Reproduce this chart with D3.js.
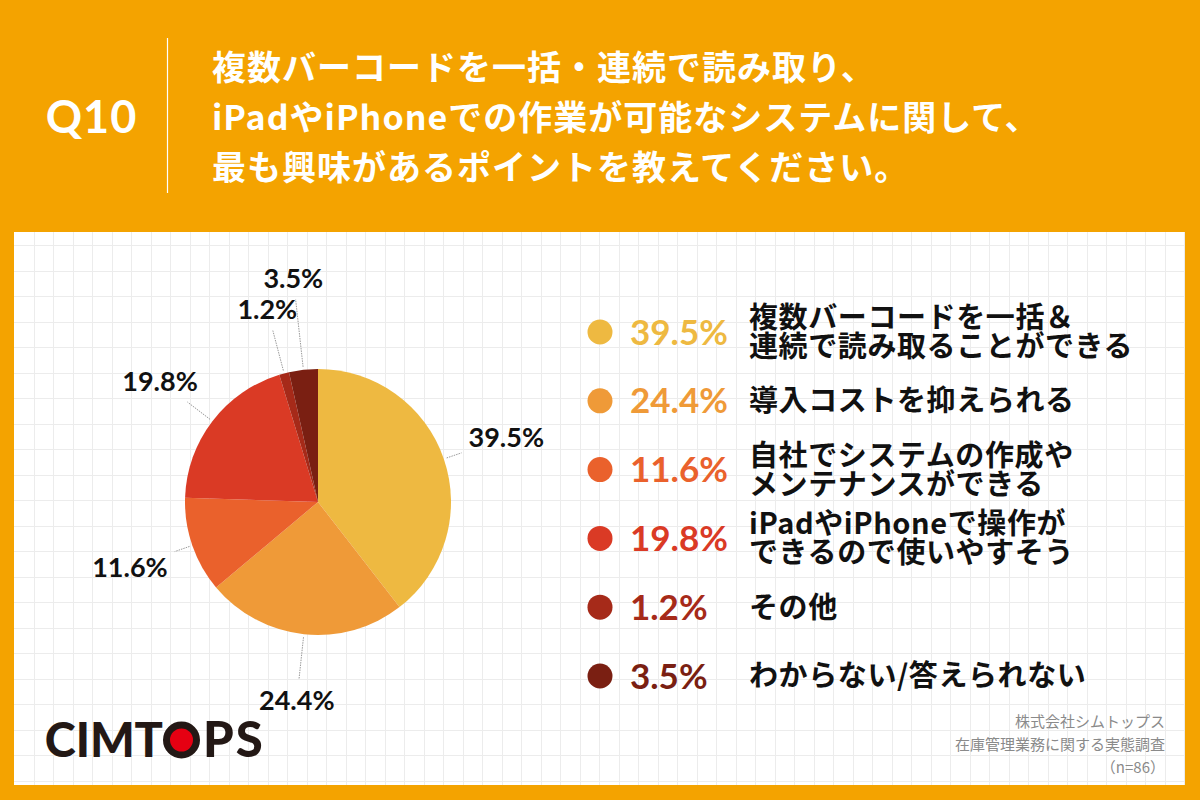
<!DOCTYPE html>
<html><head><meta charset="utf-8">
<script src="https://cdn.jsdelivr.net/npm/d3@7"></script>
<style>
body{margin:0;background:#fff;}
svg{display:block}
</style>
</head><body>
<svg id="chart" width="1200" height="800"></svg>
<script>
// ---- data ----
const categories = [
  ["複数バーコードを一括＆", "連続で読み取ることができる"],
  ["導入コストを抑えられる"],
  ["自社でシステムの作成や", "メンテナンスができる"],
  ["iPadやiPhoneで操作が", "できるので使いやすそう"],
  ["その他"],
  ["わからない/答えられない"]
];
const values = [39.5, 24.4, 11.6, 19.8, 1.2, 3.5];
const valueLabels = ["39.5%", "24.4%", "11.6%", "19.8%", "1.2%", "3.5%"];
const questionNo = "Q10";
const titleLines = [
  "複数バーコードを一括・連続で読み取り、",
  "iPadやiPhoneでの作業が可能なシステムに関して、",
  "最も興味があるポイントを教えてください。"
];
const sourceLines = ["株式会社シムトップス", "在庫管理業務に関する実態調査", "（n=86）"];
const sliceColors = ["#EEB941", "#EF9A38", "#EA612C", "#DA3A25", "#A62A19", "#7A1F12"];

// ---- layout ----
const W = 1200, H = 800;
const svg = d3.select("#chart");
const JP = "'Noto Sans CJK JP','Noto Sans',sans-serif";
const NUM = "Lato,'Noto Sans',sans-serif";

svg.append("rect").attr("width", W).attr("height", H).attr("fill", "#F4A300");

// white panel with grid
const panel = {x: 14, y: 232, w: 1171, h: 553};
svg.append("rect").attr("x", panel.x).attr("y", panel.y)
  .attr("width", panel.w).attr("height", panel.h).attr("fill", "#ffffff");
const gridG = svg.append("g").attr("stroke", "#ececec").attr("stroke-width", 1);
const gx = d3.range(panel.x + 19.5, panel.x + panel.w, 19.5);
const gy = d3.range(panel.y + 13, panel.y + panel.h, 25.5);
gridG.selectAll("line.v").data(gx).join("line").attr("class", "v")
  .attr("x1", d => Math.round(d) + 0.5).attr("x2", d => Math.round(d) + 0.5)
  .attr("y1", panel.y).attr("y2", panel.y + panel.h);
gridG.selectAll("line.h").data(gy).join("line").attr("class", "h")
  .attr("y1", d => Math.round(d) + 0.5).attr("y2", d => Math.round(d) + 0.5)
  .attr("x1", panel.x).attr("x2", panel.x + panel.w);

// header
svg.append("text").attr("x", 91.5).attr("y", 117).attr("dy", "0.36em")
  .attr("text-anchor", "middle").attr("fill", "#fff")
  .attr("font-family", NUM).attr("font-weight", 700).attr("font-size", 45)
  .attr("letter-spacing", 1)
  .text(questionNo);
svg.append("line").attr("x1", 167.5).attr("x2", 167.5).attr("y1", 38).attr("y2", 193)
  .attr("stroke", "#fff").attr("stroke-width", 1.2);
const titleY = d3.scalePoint().domain(d3.range(titleLines.length)).range([68, 168]);
svg.append("g").selectAll("text").data(titleLines).join("text")
  .attr("x", 212).attr("y", (d, i) => titleY(i)).attr("dy", "0.36em")
  .attr("fill", "#fff").attr("font-family", JP).attr("font-weight", 700)
  .attr("font-size", 34).attr("letter-spacing", 1).text(d => d);

// pie
const cx = 318, cy = 502, R = 133;
const pie = d3.pie().sort(null).value(d => d);
const arcs = pie(values);
const arc = d3.arc().innerRadius(0).outerRadius(R);
const pieG = svg.append("g").attr("transform", `translate(${cx},${cy})`);
pieG.selectAll("path").data(arcs).join("path")
  .attr("d", arc).attr("fill", (d, i) => sliceColors[i]);

// pie labels with simple collision avoidance
const labelG = pieG.append("g");
const lbls = labelG.selectAll("text").data(arcs).join("text")
  .attr("text-anchor", "middle").attr("dy", "0.36em")
  .attr("font-family", NUM).attr("font-weight", 700).attr("font-size", 27)
  .attr("fill", "#111").text((d, i) => valueLabels[i]);
const placed = [];
const capH = 20;
lbls.each(function(d) {
  const w = this.getComputedTextLength();
  const a = (d.startAngle + d.endAngle) / 2;
  const s = Math.sin(a), c = -Math.cos(a);
  let r = R + 66;
  const box = rr => ({x: rr * s, y: rr * c, w, h: capH});
  const hits = b => placed.some(p => Math.abs(p.x - b.x) < (p.w + b.w) / 2 + 2 && Math.abs(p.y - b.y) < (p.h + b.h) / 2 + 10);
  while (hits(box(r))) r += 2;
  const b = box(r);
  placed.push(b);
  d.lx = b.x; d.ly = b.y; d.lr = r; d.w = w; d.s = s; d.c = c;
  d3.select(this).attr("x", b.x).attr("y", b.y);
});
labelG.selectAll("line").data(arcs).join("line")
  .attr("stroke", "#9a9a9a").attr("stroke-width", 1).attr("stroke-dasharray", "1.5,1")
  .each(function(d) {
    const pad = 7;
    const tx = Math.abs(d.s) > 1e-6 ? (d.w / 2 + pad) / Math.abs(d.s) : Infinity;
    const ty = Math.abs(d.c) > 1e-6 ? (capH / 2 + pad + 4) / Math.abs(d.c) : Infinity;
    const end = d.lr - Math.min(tx, ty);
    const start = R + 3;
    d3.select(this)
      .attr("x1", start * d.s).attr("y1", start * d.c)
      .attr("x2", end * d.s).attr("y2", end * d.c);
  });

// legend
const ly = d3.scalePoint().domain(d3.range(values.length)).range([332, 676]);
const legG = svg.append("g");
const items = legG.selectAll("g").data(values).join("g")
  .attr("transform", (d, i) => `translate(0,${ly(i)})`);
items.append("circle").attr("cx", 600).attr("cy", 0).attr("r", 12.5)
  .attr("fill", (d, i) => sliceColors[i]);
items.append("text").attr("x", 630).attr("y", 0).attr("dy", "0.36em")
  .attr("font-family", NUM).attr("font-weight", 700).attr("font-size", 35)
  .attr("fill", (d, i) => sliceColors[i]).text((d, i) => valueLabels[i]);
items.each(function(d, i) {
  const lines = categories[i];
  const n = lines.length;
  const t = d3.select(this).append("text")
    .attr("font-family", JP).attr("font-weight", 700)
    .attr("font-size", 29).attr("letter-spacing", 0.6).attr("fill", "#111");
  t.selectAll("tspan").data(lines).join("tspan")
    .attr("x", 749).attr("y", (s, j) => (j - (n - 1) / 2) * 29)
    .attr("dy", "0.36em").text(s => s);
});

// logo
const logoG = svg.append("g").attr("font-family", "Lato,sans-serif").attr("font-weight", 900)
  .attr("font-size", 47).attr("fill", "#231815");
logoG.append("text").attr("x", 163).attr("y", 757).attr("text-anchor", "end")
  .text("CIMT");
logoG.append("circle").attr("cx", 181.5).attr("cy", 740).attr("r", 15).attr("fill", "#E60012")
  .attr("stroke", "#231815").attr("stroke-width", 7);
logoG.append("text").attr("x", 203).attr("y", 757).attr("letter-spacing", 2)
  .attr("font-size", 49).text("PS");

// source
svg.append("g").selectAll("text").data(sourceLines).join("text")
  .attr("x", 1165).attr("y", (d, i) => 722 + i * 23).attr("dy", "0.36em")
  .attr("text-anchor", "end").attr("font-family", JP).attr("font-size", 15)
  .attr("fill", "#8a8a8a").text(d => d);
</script>
</body></html>
